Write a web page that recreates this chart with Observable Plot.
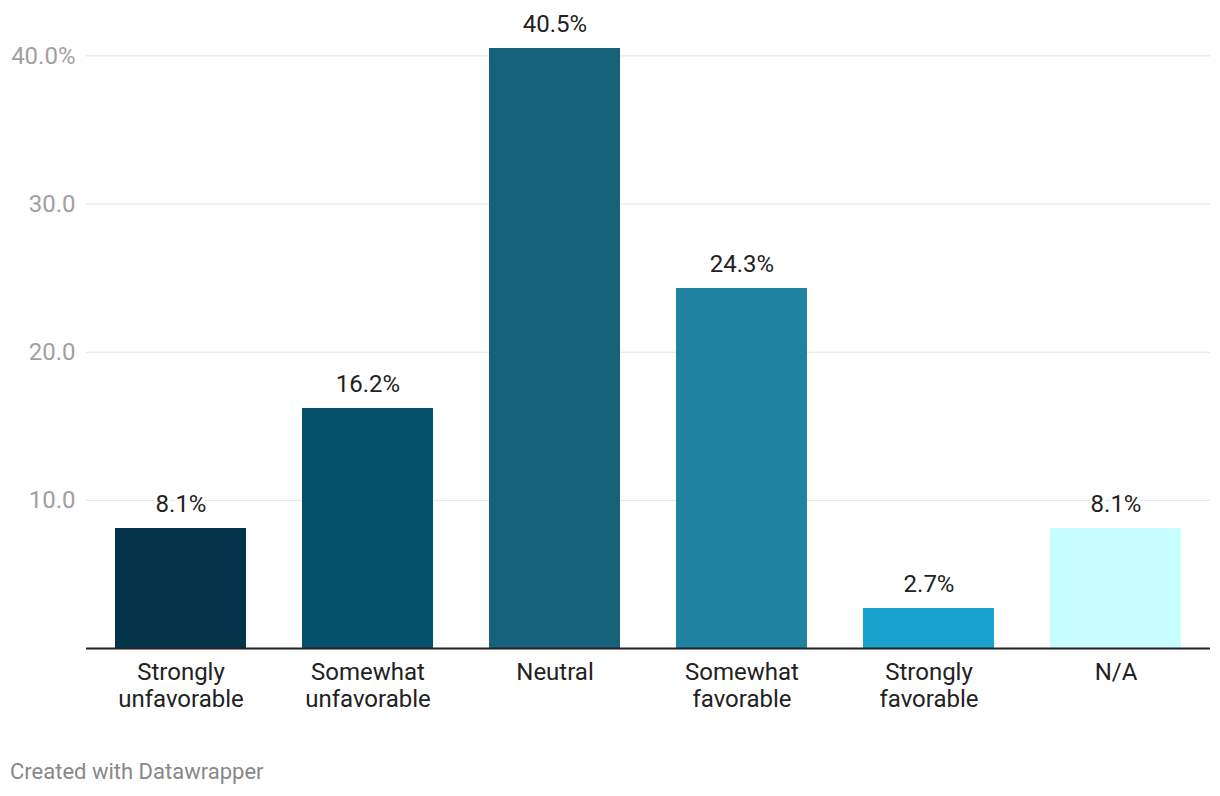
<!DOCTYPE html>
<html>
<head>
<meta charset="utf-8">
<script src="https://cdn.jsdelivr.net/npm/d3@7"></script>
<script src="https://cdn.jsdelivr.net/npm/@observablehq/plot@0.6"></script>
<style>
  body { margin: 0; background: #fff; font-family: Roboto, sans-serif; }
  #credit { font-family: Roboto, sans-serif; font-size: 22px; color: #888; padding-left: 10px; margin-top: 19px; }
</style>
</head>
<body>
<div id="chart"></div>
<div id="credit">Created with Datawrapper</div>
<script>
const categories = ["Strongly unfavorable", "Somewhat unfavorable", "Neutral", "Somewhat favorable", "Strongly favorable", "N/A"];
const values = [8.1, 16.2, 40.5, 24.3, 2.7, 8.1];
const colors = ["#03344b", "#04506a", "#17627b", "#1f82a0", "#18a2cd", "#c8feff"];
const yTicks = [10, 20, 30, 40];

const data = categories.map((c, i) => ({category: c, value: values[i], color: colors[i]}));

const chart = Plot.plot({
  width: 1220,
  height: 740,
  marginLeft: 86,
  marginRight: 10,
  marginTop: 48,
  marginBottom: 92,
  style: {fontFamily: "Roboto, sans-serif", background: "white"},
  x: {domain: categories, paddingInner: 0.3, paddingOuter: 0.15, label: null},
  y: {domain: [0, 40.5], label: null},
  marks: [
    Plot.gridY(yTicks, {stroke: "#e3e3e3", strokeOpacity: 1, strokeWidth: 1}),
    Plot.axisY(yTicks, {
      tickSize: 0, tickPadding: 11, fontSize: 24, fill: "#a0a0a0",
      tickFormat: d => d === 40 ? "40.0%" : d.toFixed(1), label: null
    }),
    Plot.barY(data, {x: "category", y: "value", fill: "color"}),
    Plot.ruleY([0], {stroke: "#222", strokeWidth: 2}),
    Plot.axisX({
      tickSize: 0, tickPadding: 12, fontSize: 24, lineHeight: 1.14, fill: "#222",
      tickFormat: d => d.replace(" ", "\n"), label: null
    }),
    Plot.text(data, {
      x: "category", y: "value", text: d => d.value.toFixed(1) + "%",
      dy: -17, lineAnchor: "bottom", fontSize: 24, fill: "#222",
      stroke: "white", strokeWidth: 6
    })
  ]
});
document.getElementById("chart").appendChild(chart);
</script>
</body>
</html>
